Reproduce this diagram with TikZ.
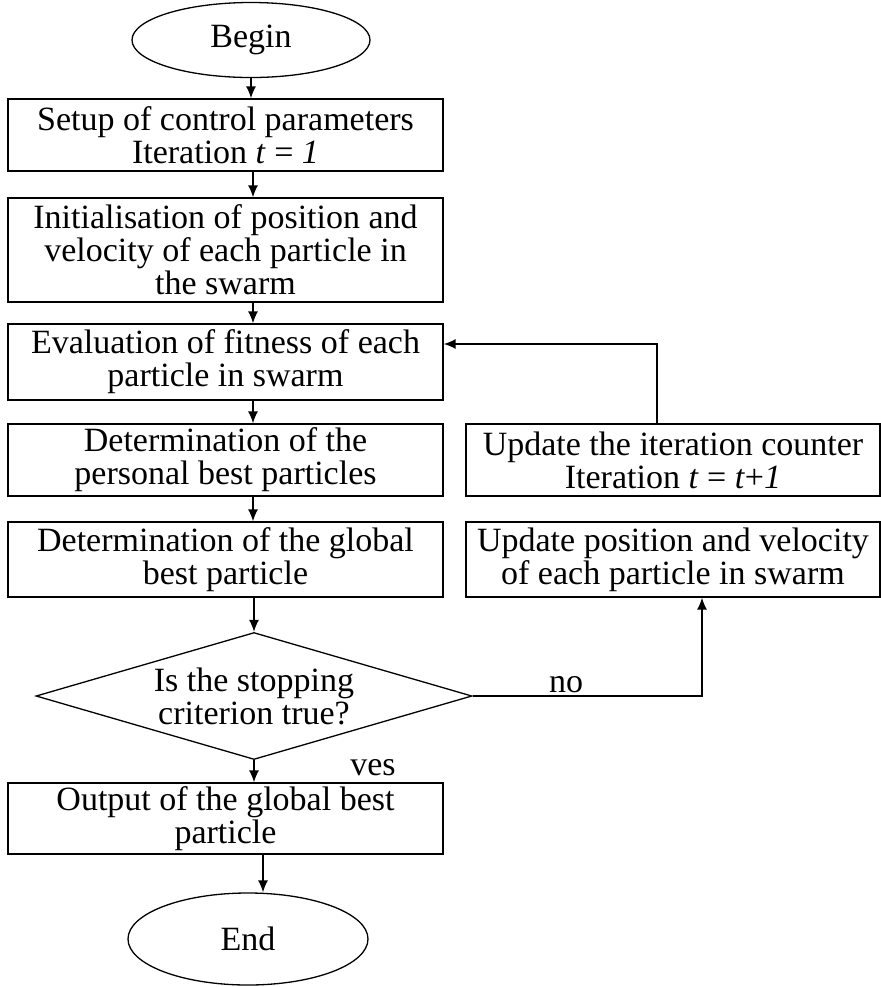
\documentclass[tikz,border=0pt]{standalone}
\usepackage{fontspec}
\setmainfont{Liberation Serif}
\usetikzlibrary{shapes.geometric,arrows.meta}

\tikzset{
  procbox/.style={draw, line width=0.65pt, align=center, inner sep=0pt, minimum width=217.5pt},
  sidebox/.style={draw, line width=0.65pt, align=center, inner sep=0pt, minimum width=207pt},
  termnode/.style={draw, ellipse, line width=0.65pt, inner sep=0pt},
  flowarrow/.style={-{Latex[length=6pt,width=5pt]}, line width=0.7pt},
}

\begin{document}
\begin{tikzpicture}[x=0.5pt,y=-0.5pt,font=\fontsize{17}{16.5}\selectfont]
\useasboundingbox (0,0) rectangle (881,987);

% Start and end of the flow
\node[termnode, minimum width=119pt, minimum height=37.5pt] (begin) at (251,40) {Begin};
\node[termnode, minimum width=120pt, minimum height=46pt] (end) at (248,939) {End};

% Main column of steps
\node[procbox, minimum height=36pt] (setup) at (225.5,135) {Setup of control parameters\\Iteration \textit{t} = \textit{1}};
\node[procbox, minimum height=52pt] (init) at (225.5,250) {Initialisation of position and\\velocity of each particle in\\the swarm};
\node[procbox, minimum height=38pt] (eval) at (225.5,362) {Evaluation of fitness of each\\particle in swarm};
\node[procbox, minimum height=36pt] (pbest) at (225.5,460) {Determination of the\\personal best particles};
\node[procbox, minimum height=37.5pt] (gbest) at (225.5,559.5) {Determination of the global\\best particle};
\node[draw, diamond, line width=0.65pt, align=center, inner sep=0pt, aspect=3.43,
      minimum width=218pt, minimum height=63.5pt] (decision) at (254,696) {Is the stopping\\criterion true?};
\node[procbox, minimum height=35.5pt] (output) at (225.5,818.5) {Output of the global best\\particle};

% Update steps on the right
\node[sidebox, minimum height=36pt] (iter) at (673,460) {Update the iteration counter\\Iteration \textit{t} = \textit{t}+\textit{1}};
\node[sidebox, minimum height=37.5pt] (update) at (673,559.5) {Update position and velocity\\of each particle in swarm};

% Branch labels
\node[anchor=base] (nolabel) at (566,692) {no};
\node[anchor=base] (veslabel) at (373,775) {ves};

% Arrows down the main column
\coordinate (axis) at (253,0);
\coordinate (endaxis) at (263,0);
\draw[flowarrow] (begin.south) -- (begin.south |- setup.north);
\draw[flowarrow] (setup.south -| axis) -- (init.north -| axis);
\draw[flowarrow] (init.south -| axis) -- (eval.north -| axis);
\draw[flowarrow] (eval.south -| axis) -- (pbest.north -| axis);
\draw[flowarrow] (pbest.south -| axis) -- (gbest.north -| axis);
\draw[flowarrow] (gbest.south -| decision.north) -- (decision.north);
\draw[flowarrow] (decision.south) -- (output.north -| decision.south);
\draw[flowarrow] (output.south -| endaxis) -- (end.north -| endaxis);

% Loop back through the update steps
\draw[flowarrow] (decision.east) -| ([xshift=14.5pt]update.south);
\draw[flowarrow] ([xshift=-8pt]iter.north) |- ([yshift=9pt]eval.east);

\end{tikzpicture}
\end{document}
